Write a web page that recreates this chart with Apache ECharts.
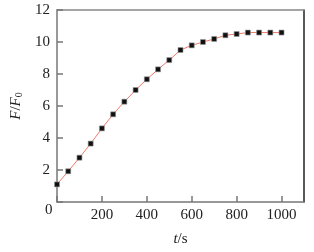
<!DOCTYPE html>
<html><head><meta charset="utf-8">
<script src="https://cdn.jsdelivr.net/npm/echarts@6/dist/echarts.min.js"></script>
<style>html,body{margin:0;padding:0;background:#fff}#c{width:314px;height:252px}</style>
</head><body><div id="c"></div>
<script>
var times = [0,50,100,150,200,250,300,350,400,450,500,550,600,650,700,750,800,850,900,950,1000];
var ratios = [1.1,1.92,2.77,3.65,4.6,5.48,6.27,7.0,7.67,8.29,8.87,9.5,9.79,10.0,10.19,10.42,10.5,10.59,10.59,10.59,10.59];
var xTicks = [0,200,400,600,800,1000];
var yTicks = [0,2,4,6,8,10,12];
var font = 'Liberation Serif';
var chart = echarts.init(document.getElementById('c'));
var pts = times.map(function(t,i){return [t, ratios[i]];});
chart.setOption({
  animation:false,
  grid:{left:57,top:10,right:10,bottom:49},
  xAxis:[{
    type:'value',min:0,max:1100,interval:200,
    axisLine:{onZero:false,lineStyle:{color:'#777',width:1.5}},
    axisTick:{inside:true,length:6,lineStyle:{color:'#777',width:1.5}},
    axisLabel:{color:'#222',fontFamily:font,fontSize:15,margin:6,
      formatter:function(v){return v===0?'':String(v);}},
    splitLine:{show:false},
    name:'{i|t}/s',nameLocation:'middle',nameGap:30,
    nameTextStyle:{color:'#222',fontFamily:font,fontSize:15,rich:{i:{fontStyle:'italic',fontFamily:font,fontSize:15,color:'#222'}}}
  },{
    type:'value',position:'top',min:0,max:1100,
    axisLine:{show:true,onZero:false,lineStyle:{color:'#888',width:1.5}},
    axisTick:{show:false},axisLabel:{show:false},splitLine:{show:false}
  }],
  yAxis:[{
    type:'value',min:0,max:12,interval:2,
    axisLine:{onZero:false,lineStyle:{color:'#777',width:1.5}},
    axisTick:{inside:true,length:6,lineStyle:{color:'#777',width:1.5}},
    axisLabel:{color:'#222',fontFamily:font,fontSize:15,margin:7,
      formatter:function(v){return v===0?'':String(v);}},
    splitLine:{show:false},
    name:'{i|F}/{i|F}{s|0}',nameLocation:'middle',nameGap:25,nameRotate:90,
    nameTextStyle:{color:'#222',fontFamily:font,fontSize:15,
      rich:{i:{fontStyle:'italic',fontFamily:font,fontSize:15,color:'#222'},
            s:{fontFamily:font,fontSize:10,color:'#222',verticalAlign:'bottom',padding:[6,0,0,0]}}}
  },{
    type:'value',position:'right',min:0,max:12,
    axisLine:{show:true,onZero:false,lineStyle:{color:'#222',width:1.5}},
    axisTick:{show:false},axisLabel:{show:false},splitLine:{show:false}
  }],
  graphic:[{type:'text',left:45,top:203,style:{text:'0',font:'15px "Liberation Serif"',fill:'#222'}}],
  series:[{
    type:'line',data:pts,symbol:'rect',symbolSize:5,
    lineStyle:{color:'#f07a6a',width:1},
    itemStyle:{color:'#111',borderColor:'#999',borderWidth:0.6}
  }]
});
</script></body></html>
